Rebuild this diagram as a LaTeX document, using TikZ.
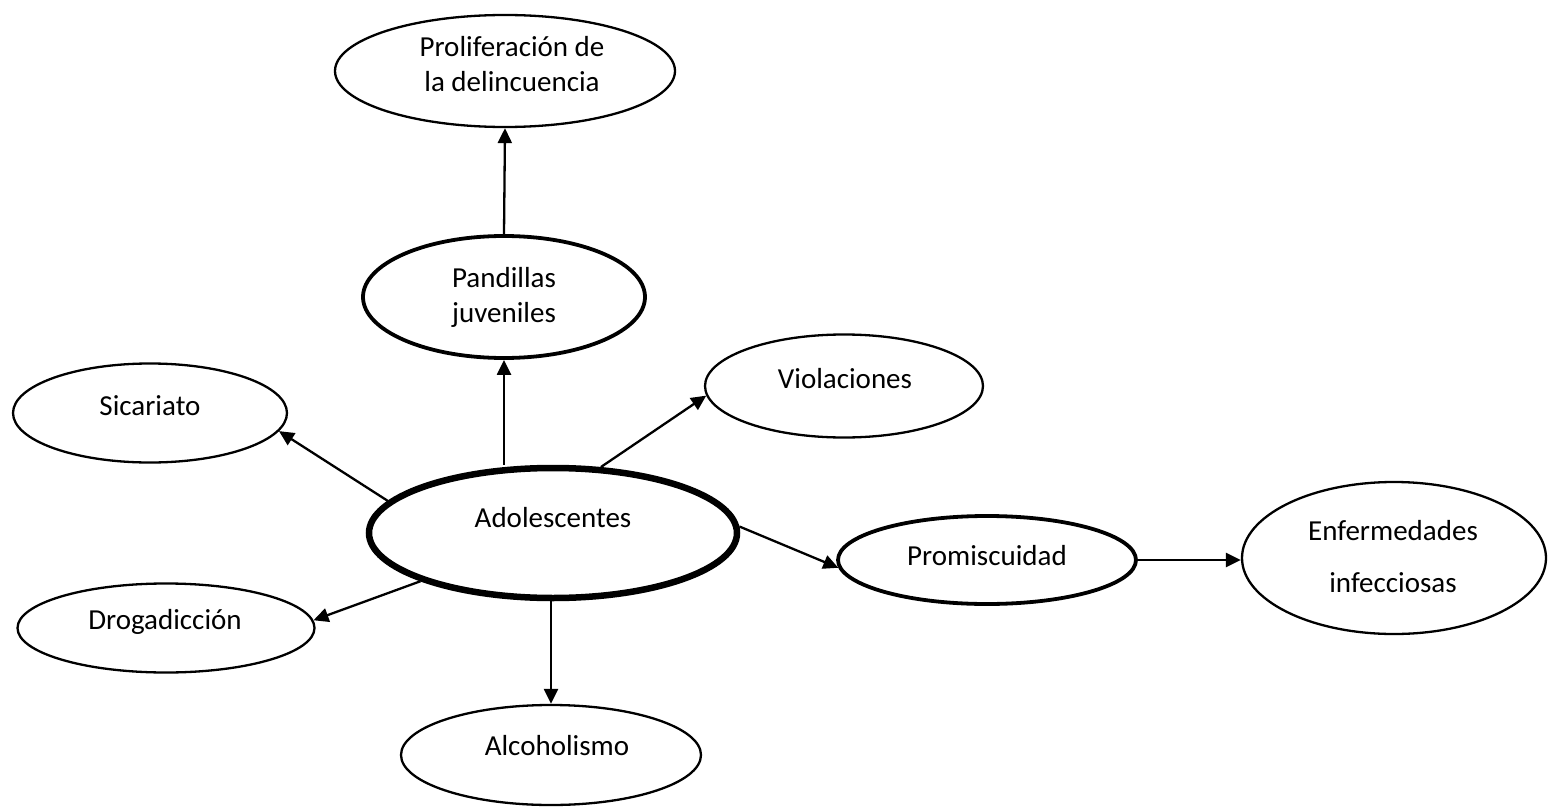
\documentclass[tikz,border=0pt]{standalone}
\usepackage{fontspec}
\setmainfont{Carlito}
\usetikzlibrary{shapes.geometric,arrows.meta}
\begin{document}
\begin{tikzpicture}[x=1pt,y=-1pt,
  ell/.style={ellipse, draw, line width=2.3pt, inner sep=0pt, fill=white},
  thickell/.style={ell, line width=3.8pt},
  heavyell/.style={ell, line width=6.5pt},
  lbl/.style={font=\fontsize{29}{35}\selectfont, align=center, inner sep=0pt},
  arr/.style={line width=2.3pt, -{Triangle[length=15pt,width=14pt]}}]
\useasboundingbox (0,0) rectangle (1548,808);
% ellipses
\node[ell, minimum width=340pt, minimum height=112pt] (prolif) at (505,71) {};
\node[thickell, minimum width=282pt, minimum height=122pt] (pand) at (504,297) {};
\node[ell, minimum width=274pt, minimum height=99pt] (sic) at (150,413) {};
\node[ell, minimum width=278pt, minimum height=103pt] (viol) at (844,386) {};
\node[heavyell, minimum width=368pt, minimum height=130pt] (adol) at (553,533) {};
\node[thickell, minimum width=298pt, minimum height=88pt] (prom) at (987,560) {};
\node[ell, minimum width=304pt, minimum height=152pt] (enf) at (1394,558) {};
\node[ell, minimum width=297pt, minimum height=89pt] (drog) at (166,628) {};
\node[ell, minimum width=300pt, minimum height=100pt] (alc) at (551,755) {};
% labels
\node[lbl] (tprolif) at (512,64) {Proliferación de\\la delincuencia};
\node[lbl] (tpand) at (504,297) {Pandillas\\juveniles};
\node[lbl] (tsic) at (150,406) {Sicariato};
\node[lbl] (tviol) at (845,379) {Violaciones};
\node[lbl] (tadol) at (553,518) {Adolescentes};
\node[lbl, font=\fontsize{29}{52}\selectfont] (tenf) at (1393,557) {Enfermedades\\infecciosas};
\node[lbl] (tprom) at (987,556) {Promiscuidad};
\node[lbl] (tdrog) at (165,622) {Drogadicción};
\node[lbl] (talc) at (557,746) {Alcoholismo};
% connectors
\draw[arr] (pand.north) -- (prolif.south);
\draw[arr] (pand.south |- adol.north) -- (pand.south);
\draw[arr] (adol.169) -- (sic.-8);
\draw[arr] (adol.54) -- (viol.184);
\draw[arr] (adol.2) -- (prom.183);
\draw[arr] (prom.east) -- (prom.east -| enf.west);
\draw[arr] (adol.200) -- (drog.3);
\draw[arr] (alc.north |- adol.south) -- (alc.north);
\end{tikzpicture}
\end{document}
